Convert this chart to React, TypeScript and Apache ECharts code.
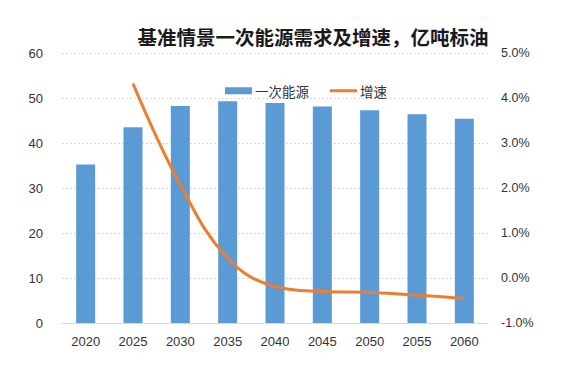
import React, { useEffect, useRef } from "react";
import * as echarts from "echarts";

const years = ["2020", "2025", "2030", "2035", "2040", "2045", "2050", "2055", "2060"];
const energy = [35.2, 43.5, 48.2, 49.3, 48.9, 48.1, 47.3, 46.4, 45.4];
const growth = [null, 4.32, 2.07, 0.44, -0.19, -0.3, -0.32, -0.38, -0.46];

export default function App() {
  const ref = useRef<HTMLDivElement>(null);
  useEffect(() => {
    const chart = echarts.init(ref.current!, null, { renderer: "svg" });
    const font = "'Liberation Sans', 'Noto Sans CJK SC', sans-serif";
    chart.setOption({
      animation: false,
      backgroundColor: "#ffffff",
      title: {
        text: "基准情景一次能源需求及增速，亿吨标油",
        left: 308,
        textAlign: "center",
        top: 22,
        textStyle: {
          fontFamily: "'Noto Sans CJK SC', sans-serif",
          fontWeight: "bold",
          fontSize: 19.5,
          color: "#1a1a1a",
        },
      },
      legend: {
        left: 220,
        top: 79,
        itemWidth: 27,
        itemHeight: 7,
        itemGap: 21,
        textStyle: { fontFamily: "'Noto Sans CJK SC', sans-serif", fontSize: 13.5, color: "#333333", padding: [0, 0, 0, -2] },
        data: [
          { name: "一次能源", icon: "rect" },
          { name: "增速", icon: "path://M0,0 L27,0 L27,3 L0,3 Z", itemStyle: { color: "#ED7D31" } },
        ],
      },
      grid: { left: 62, right: 77, top: 53, bottom: 42 },
      xAxis: {
        type: "category",
        data: years,
        axisLine: { lineStyle: { color: "#D9D9D9", width: 1 } },
        axisTick: { show: false },
        axisLabel: { color: "#333333", fontSize: 13, margin: 12, fontFamily: font },
      },
      yAxis: [
        {
          type: "value",
          min: 0,
          max: 60,
          interval: 10,
          axisLine: { show: false },
          axisTick: { show: false },
          axisLabel: { color: "#333333", fontSize: 13, margin: 19, fontFamily: font },
          splitLine: { lineStyle: { color: "#D9D9D9", type: [2, 2] } },
        },
        {
          type: "value",
          min: -1,
          max: 5,
          interval: 1,
          axisLine: { show: false },
          axisTick: { show: false },
          splitLine: { show: false },
          axisLabel: {
            color: "#333333",
            fontSize: 12.5,
            margin: 13,
            fontFamily: font,
            formatter: (v: number) => v.toFixed(1) + "%",
          },
        },
      ],
      series: [
        {
          name: "一次能源",
          type: "bar",
          data: energy,
          barWidth: 19,
          itemStyle: { color: "#5B9BD5" },
        },
        {
          name: "增速",
          type: "line",
          yAxisIndex: 1,
          data: growth,
          smooth: 0.4,
          symbol: "none",
          connectNulls: false,
          lineStyle: { color: "#ED7D31", width: 3 },
          itemStyle: { color: "#ED7D31" },
        },
      ],
    });
    return () => chart.dispose();
  }, []);
  return <div ref={ref} style={{ width: 565, height: 365, position: "absolute", left: 0, top: 0 }} />;
}
